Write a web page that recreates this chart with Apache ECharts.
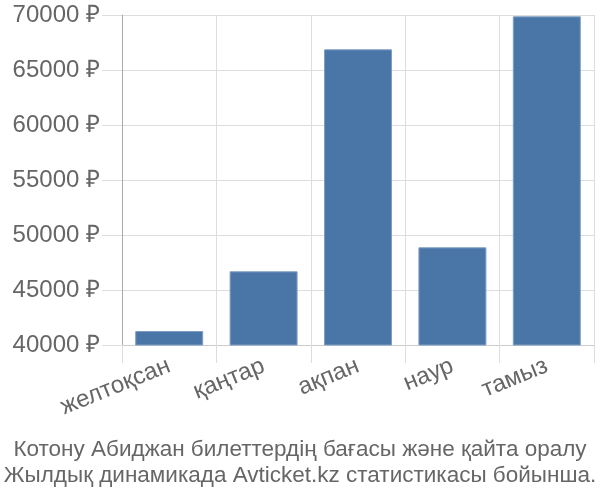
<!DOCTYPE html>
<html>
<head>
<meta charset="utf-8">
<script src="https://cdn.jsdelivr.net/npm/echarts@6/dist/echarts.min.js"></script>
<style>
  html, body { margin: 0; padding: 0; background: #fff; }
  #chart { width: 600px; height: 500px; }
</style>
</head>
<body>
<div id="chart"></div>
<script>
// months (Kazakh) and average ticket price, RUB
const months = ['желтоқсан', 'қаңтар', 'ақпан', 'наур', 'тамыз'];
const prices = [41270, 46700, 66880, 48880, 69880];
const titleLines = [
    'Котону Абиджан билеттердің бағасы және қайта оралу',
    'Жылдық динамикада Avticket.kz статистикасы бойынша.'
];

const chart = echarts.init(document.getElementById('chart'));

const option = {
    textStyle: { fontFamily: 'Liberation Sans, Arial, sans-serif' },
    animation: false,
    title: {
        text: titleLines.join('\n'),
        left: 'center',
        top: 432,
        textStyle: {
            fontSize: 22.5,
            fontWeight: 'normal',
            color: '#666',
            lineHeight: 26
        }
    },
    grid: {
        top: 15,
        left: 122,
        right: 6,
        bottom: 155
    },
    xAxis: {
        type: 'category',
        data: months,
        boundaryGap: true,
        axisLine: { lineStyle: { color: '#ccc' } },
        axisTick: { show: true, length: 18, lineStyle: { color: '#ddd' } },
        splitLine: { show: true, lineStyle: { color: '#ddd' } },
        axisLabel: {
            rotate: 22,
            fontSize: 24,
            color: '#666',
            margin: 20
        }
    },
    yAxis: {
        type: 'value',
        min: 40000,
        max: 70000,
        interval: 5000,
        axisLine: { show: true, lineStyle: { color: '#aaa' } },
        axisTick: { show: true, length: 20, lineStyle: { color: '#ddd' } },
        splitLine: { lineStyle: { color: '#ddd' } },
        axisLabel: {
            fontSize: 24,
            color: '#666',
            margin: 22,
            formatter: (v) => v + ' ₽'
        }
    },
    series: [
        {
            type: 'bar',
            data: prices,
            barWidth: '72%',
            itemStyle: {
                color: '#4a76a7',
                borderColor: '#7f9ec4',
                borderWidth: 1
            }
        }
    ]
};

chart.setOption(option);
</script>
</body>
</html>
